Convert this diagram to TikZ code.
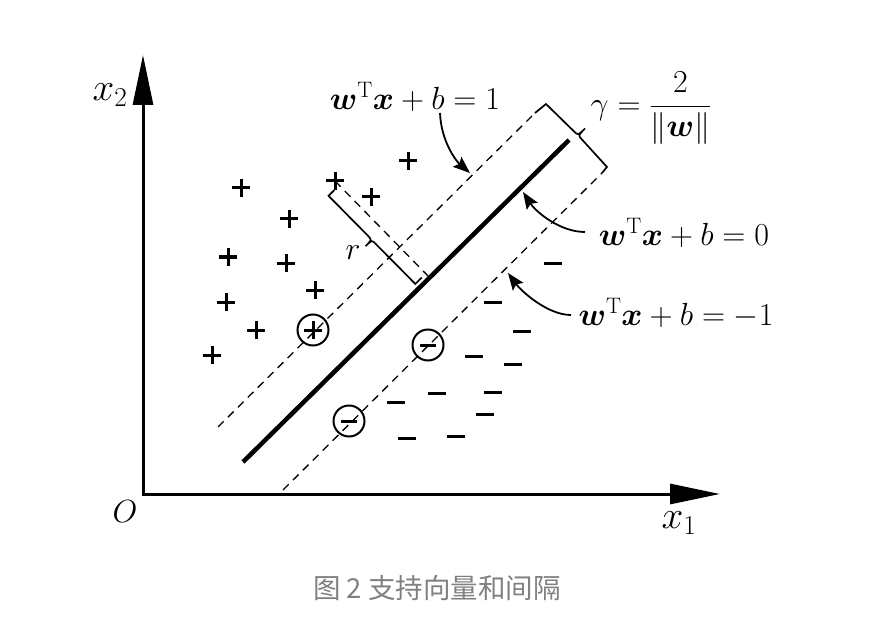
\RequirePackage{fix-cm}
\documentclass[tikz,border=0pt]{standalone}
\usepackage{amsmath,bm}
\usepackage{fontspec}
\newfontfamily\cjk{Noto Sans CJK SC}
\usetikzlibrary{arrows.meta}
\definecolor{capgray}{RGB}{128,128,128}
\begin{document}
\begin{tikzpicture}[x=1pt,y=-1pt,
  axisline/.style={line width=3pt},
  sepline/.style={line width=4.5pt},
  marginline/.style={line width=1.3pt,dash pattern=on 8pt off 6pt},
  bracketline/.style={line width=1.7pt,line join=miter},
  lbl/.style={font=\fontsize{32}{38}\selectfont,inner sep=0pt},
  axlbl/.style={font=\fontsize{39}{46}\selectfont,inner sep=0pt},
  ptr/.style={line width=1.8pt,-{Stealth[length=17pt,width=13pt,inset=3pt]}},
  plusmark/.pic={\draw[line width=3pt] (-9,0)--(9,0) (0,-9)--(0,9);},
  minusmark/.pic={\draw[line width=3pt] (-9,0)--(9,0);},
  cplusmark/.pic={\draw[line width=2pt] (0,0) circle[radius=15.5];
                  \draw[line width=3pt] (-9,0)--(9,0) (0,-9)--(0,9);},
  cminusmark/.pic={\draw[line width=2pt] (0,0) circle[radius=15.5];
                  \draw[line width=3pt] (-8,0)--(8,0);},
]
\useasboundingbox (0,0) rectangle (880,644);

% axes
\coordinate (O) at (143,494);
\coordinate (ytip) at (143,55);
\coordinate (xtip) at (720,494);
\draw[axisline,line join=miter,{Triangle[length=50pt,width=20pt]}-{Triangle[length=50pt,width=20pt]}] (ytip) -- (O) -- (xtip);
\node[axlbl] (x2lab) at (110,95) {$x_2$};
\node[axlbl] (x1lab) at (679,523) {$x_1$};
\node[lbl] (olab) at (125,512) {$O$};

% hyperplanes
\coordinate (u0) at (218,427); \coordinate (u1) at (535,113);
\coordinate (l0) at (283,490); \coordinate (l1) at (602,173);
\coordinate (s0) at (243,462); \coordinate (s1) at (569,140);
\draw[marginline] (u0) -- (u1);
\draw[marginline] (l0) -- (l1);
\draw[sepline] (s0) -- (s1);

% gamma bracket
\coordinate (gA) at (546,104);
\coordinate (gB) at (607,167);
\coordinate (gM) at (578,135.5);
\coordinate (gM1) at (574,131.4);
\coordinate (gM2) at (582,139.6);
\coordinate (gT) at (585,128.5);
\draw[bracketline] (u1) -- (gA) -- (gM1) .. controls (gM) .. (gT) .. controls (gM) .. (gM2) -- (gB) -- (l1);

% r distance
\coordinate (rp) at (335,181);
\coordinate (rf) at (430,278);
\draw[marginline] (rp) -- (rf);
\coordinate (rC1a) at (334.2,190.2);
\coordinate (rC1) at (328.5,195.8);
\coordinate (rM1) at (368,235.8);
\coordinate (rM) at (371.9,239.9);
\coordinate (rT) at (365.5,246.2);
\coordinate (rM2) at (375.8,244);
\coordinate (rC2) at (415.3,283.9);
\coordinate (rC2a) at (421.7,277.6);
\draw[bracketline] (rC1a) -- (rC1) -- (rM1) .. controls (rM) .. (rT) .. controls (rM) .. (rM2) -- (rC2) -- (rC2a);
\node[lbl] (rlab) at (353,253) {$r$};

% samples
\foreach \p in {(241,188),(408,161),(335,181),(371,197),(289,219),(228,257),(286,263),(315,290),(226,302),(256,330),(212,355)}
  \pic at \p {plusmark};
\pic at (313,330) {cplusmark};
\foreach \p in {(553,263),(493,302),(522,331),(474,356),(513,364),(437,393),(493,392),(396,402),(485,414),(407,438),(456,436)}
  \pic at \p {minusmark};
\pic at (428,345) {cminusmark};
\pic at (349,421) {cminusmark};

% labels
\node[lbl] (eq1) at (415,97) {$\bm{w}^{\mathrm{T}}\bm{x}+b=1$};
\node[lbl] (eq0) at (684,233) {$\bm{w}^{\mathrm{T}}\bm{x}+b=0$};
\node[lbl] (eqm) at (676,313) {$\bm{w}^{\mathrm{T}}\bm{x}+b=-1$};
\node[lbl] (gam) at (651,108) {$\gamma=\dfrac{2}{\|\bm{w}\|}$};

% pointers
\coordinate (a1s) at (440,113); \coordinate (a1e) at (470,173);
\draw[ptr] (a1s) .. controls (441,140) and (455,160) .. (a1e);
\coordinate (a0s) at (585,232); \coordinate (a0e) at (523,192);
\draw[ptr] (a0s) .. controls (560,232) and (536,212) .. (a0e);
\coordinate (ams) at (571,315); \coordinate (ame) at (508,273);
\draw[ptr] (ams) .. controls (548,315) and (522,292) .. (ame);

% caption
\node[font=\cjk\fontsize{27.5}{32}\selectfont,text=capgray,inner sep=0pt] (cap) at (437,588) {图 2 支持向量和间隔};
\end{tikzpicture}
\end{document}
